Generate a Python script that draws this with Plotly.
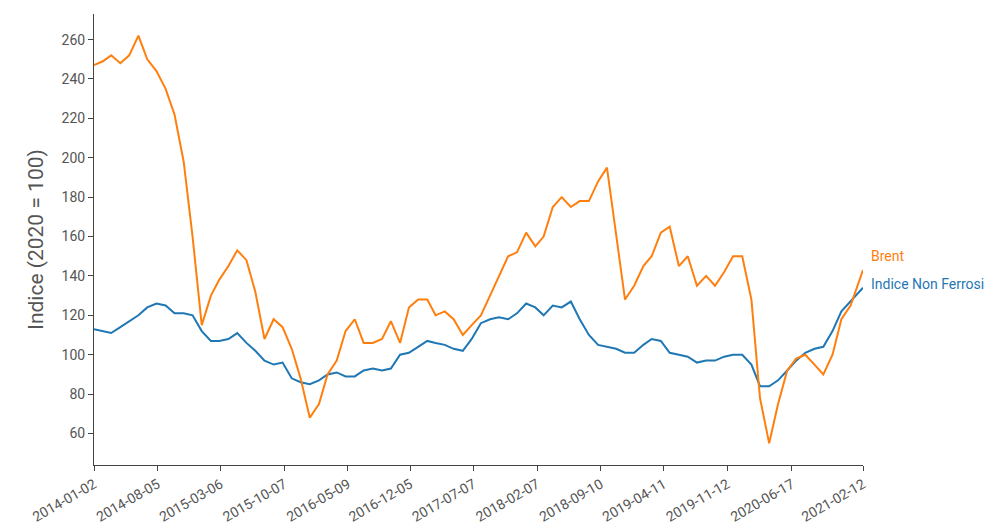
import pandas as pd
import plotly.graph_objects as go

brent = [247,249,252,248,252,262,250,244,235,222,198,160,
         115,130,138,145,153,148,132,108,118,114,103,88,
         68,75,90,97,112,118,106,106,108,117,106,124,
         128,128,120,122,118,110,115,120,130,140,150,152,
         162,155,160,175,180,175,178,178,188,195,160,128,
         135,145,150,162,165,145,150,135,140,135,142,150,
         150,128,78,55,75,92,98,100,95,90,100,118,
         125,143]
metals = [113,112,111,114,117,120,124,126,125,121,121,120,
          112,107,107,108,111,106,102,97,95,96,88,86,
          85,87,90,91,89,89,92,93,92,93,100,101,
          104,107,106,105,103,102,108,116,118,119,118,121,
          126,124,120,125,124,127,118,110,105,104,103,101,
          101,105,108,107,101,100,99,96,97,97,99,100,
          100,95,84,84,87,92,97,101,103,104,112,122,
          127,134]
dates = [d.strftime("%Y-%m-%d") for d in pd.date_range("2014-01-01", "2021-02-01", freq="MS")]
dates[0] = "2014-01-02"
dates[-1] = "2021-02-12"
tick_dates = ["2014-01-02","2014-08-05","2015-03-06","2015-10-07","2016-05-09","2016-12-05",
              "2017-07-07","2018-02-07","2018-09-10","2019-04-11","2019-11-12","2020-06-17","2021-02-12"]

fig = go.Figure()
fig.add_trace(go.Scatter(x=dates, y=metals, mode="lines", line=dict(color="#1f77b4", width=2), name="Indice Non Ferrosi"))
fig.add_trace(go.Scatter(x=dates, y=brent, mode="lines", line=dict(color="#ff7f0e", width=2), name="Brent"))
fig.add_annotation(x=dates[-1], y=brent[-1], text="Brent", showarrow=False, xanchor="left", xshift=6, yshift=14,
                   font=dict(color="#ff7f0e", size=14))
fig.add_annotation(x=dates[-1], y=metals[-1], text="Indice Non Ferrosi", showarrow=False, xanchor="left", xshift=6, yshift=4,
                   font=dict(color="#1f77b4", size=14))
fig.update_layout(
    width=993, height=531, margin=dict(l=86, r=138, t=6, b=74),
    plot_bgcolor="white", paper_bgcolor="white", showlegend=False,
    font=dict(family="Roboto, sans-serif", color="#555", size=14),
    xaxis=dict(type="date", range=["2014-01-02", "2021-02-12"], tickvals=tick_dates, ticktext=tick_dates,
               tickangle=-30, showgrid=False, showline=True, linecolor="#444", ticks="outside",
               ticklen=5, tickcolor="#444", zeroline=False, automargin=False),
    yaxis=dict(range=[44, 273], dtick=20, tick0=0, showgrid=False, showline=True, linecolor="#444",
               ticks="outside", ticklen=5, tickcolor="#444", zeroline=False, automargin=False,
               title=dict(text="Indice (2020 = 100)", standoff=12, font=dict(size=21, color="#555"))),
)
fig.write_html("out.html")
